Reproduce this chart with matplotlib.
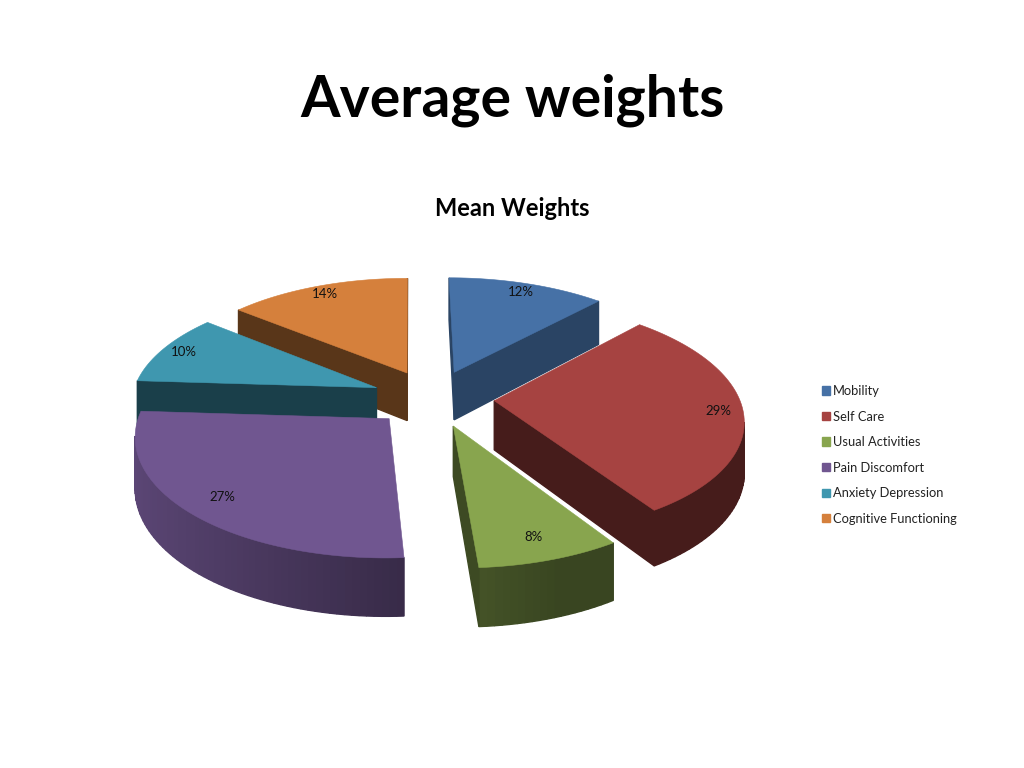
import numpy as np
import matplotlib
matplotlib.use("Agg")
import matplotlib.pyplot as plt
from matplotlib.patches import Polygon, Patch

plt.rcParams['font.family'] = ['Lato', 'DejaVu Sans']

categories = ["Mobility", "Self Care", "Usual Activities", "Pain Discomfort",
              "Anxiety Depression", "Cognitive Functioning"]
values = [12, 29, 8, 27, 10, 14]
top_colors = ["#4671A6", "#A64341", "#88A54E", "#705690", "#3F97AF", "#D5803C"]
title_text = "Average weights"
chart_title = "Mean Weights"

CX, CY, RX, RY, K, DEPTH, EXPLODE, SKEW = 433, 398, 245, 114, 0.137, 49, 0.25, 0.027
LABEL_F = [0.9, 0.9, 0.85, 0.85, 0.9, 0.9]
DRAW_ORDER = [5, 0, 4, 1, 3, 2]
WALL_SHADE = [0.6, 0.42, 0.45, 0.42, 0.42, 0.42]


def project(x, y, z=0.0):
    w = 1 + K * y
    return CX + (RX * x - SKEW * RY * y) / w, CY - RY * y / w + z / w


def shade(c, f):
    return tuple(v * f for v in matplotlib.colors.to_rgb(c))


fig = plt.figure(figsize=(10.24, 7.68), dpi=100)
ax = fig.add_axes([0, 0, 1, 1])
ax.set_xlim(0, 1024)
ax.set_ylim(768, 0)
ax.axis("off")

fracs = np.array(values) / sum(values)
edges = np.concatenate([[0], np.cumsum(fracs)]) * 2 * np.pi


def slice_outline(i):
    a0, a1 = edges[i], edges[i + 1]
    mid = (a0 + a1) / 2
    ox, oy = EXPLODE * np.sin(mid), EXPLODE * np.cos(mid)
    th = np.linspace(a0, a1, max(int((a1 - a0) * 40), 8))
    xs = np.concatenate([[ox], ox + np.sin(th)])
    ys = np.concatenate([[oy], oy + np.cos(th)])
    return xs, ys, th, ox, oy, mid


for i in DRAW_ORDER:
    xs, ys, th, ox, oy, mid = slice_outline(i)
    col = top_colors[i]
    n = len(xs)
    for j in range(n):
        k = (j + 1) % n
        p0, p1 = project(xs[j], ys[j]), project(xs[k], ys[k])
        if p1[0] - p0[0] >= 0:
            continue
        q0, q1 = project(xs[j], ys[j], DEPTH), project(xs[k], ys[k], DEPTH)
        if j == 0 or k == 0:
            f = WALL_SHADE[i]
        else:
            nx = np.sin((th[j - 1] + th[k - 1]) / 2)
            f = np.clip(0.52 - 0.3 * nx, 0.42, 0.85)
        ax.add_patch(Polygon([p0, p1, q1, q0], closed=True, fc=shade(col, f),
                             ec=shade(col, f), lw=1.0, joinstyle="bevel", zorder=2))
    pts = [project(a, b) for a, b in zip(xs, ys)]
    ax.add_patch(Polygon(pts, closed=True, fc=col, ec=col, lw=0.4, zorder=3))

for i in range(len(values)):
    xs, ys, th, ox, oy, mid = slice_outline(i)
    lx, ly = project(ox + LABEL_F[i] * np.sin(mid), oy + LABEL_F[i] * np.cos(mid))
    ax.text(lx, ly, f"{values[i]}%", ha="center", va="center", fontsize=9.5, color="#111111", zorder=5)

ax.text(512, 100, title_text, ha="center", va="center", fontsize=41, fontweight="bold", color="black")
ax.text(512, 208, chart_title, ha="center", va="center", fontsize=17, fontweight="bold", color="black")

handles = [Patch(fc=c, ec=c, label=l) for c, l in zip(top_colors, categories)]
ax.legend(handles=handles, loc="upper left", bbox_to_anchor=(822 / 1024, 1 - 385 / 768),
          frameon=False, fontsize=9.3, handlelength=0.62, handleheight=0.62, handletextpad=0.25,
          labelspacing=1.05, borderpad=0, borderaxespad=0, labelcolor="#222222")

fig.savefig("out.png", dpi=100)
